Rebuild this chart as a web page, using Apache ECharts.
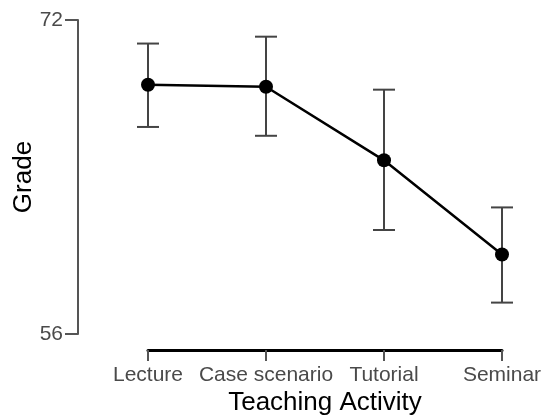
<!DOCTYPE html>
<html>
<head>
<meta charset="utf-8">
<script src="https://cdn.jsdelivr.net/npm/echarts@6/dist/echarts.min.js"></script>
<style>
  html, body { margin: 0; padding: 0; background: #fff; }
  #chart { width: 542px; height: 416px; }
</style>
</head>
<body>
<div id="chart"></div>
<script>
// teaching activity vs grade, mean with error bars
const categories = ['Lecture', 'Case scenario', 'Tutorial', 'Seminar'];
const means = [68.7, 68.6, 64.85, 60.05];
const upper = [70.8, 71.15, 68.45, 62.45];
const lower = [66.55, 66.1, 61.3, 57.6];
const yTicks = [56, 72];

const font = 'Liberation Sans, Arial, sans-serif';
const chart = echarts.init(document.getElementById('chart'));

const errData = categories.map((c, i) => [i, lower[i], upper[i]]);

chart.setOption({
  animation: false,
  grid: { left: 148, right: 40, top: 20, bottom: 82, outerBoundsMode: 'none', containLabel: false },
  xAxis: {
    type: 'category',
    data: categories,
    boundaryGap: false,
    offset: 16,
    name: 'Teaching Activity',
    nameLocation: 'middle',
    nameGap: 40,
    nameMoveOverlap: false,
    nameTextStyle: { fontFamily: font, fontSize: 26, color: '#000' },
    axisLine: { lineStyle: { color: '#000', width: 3 } },
    axisTick: { interval: 0, length: 11, lineStyle: { color: '#555', width: 2 } },
    axisLabel: { interval: 0, fontFamily: font, fontSize: 21, color: '#4a4a4a', margin: 15 },
    splitLine: { show: false }
  },
  yAxis: {
    type: 'value',
    min: yTicks[0],
    max: yTicks[1],
    interval: yTicks[1] - yTicks[0],
    offset: 70,
    name: 'Grade',
    nameLocation: 'middle',
    nameGap: 41,
    nameMoveOverlap: false,
    nameTextStyle: { fontFamily: font, fontSize: 26, color: '#000' },
    axisLine: { show: true, lineStyle: { color: '#555', width: 2 } },
    axisTick: { show: true, length: 13, lineStyle: { color: '#555', width: 2 } },
    axisLabel: { fontFamily: font, fontSize: 21, color: '#4a4a4a', margin: 15 },
    splitLine: { show: false }
  },
  series: [
    {
      type: 'custom',
      z: 1,
      data: errData,
      renderItem: function (params, api) {
        const x = api.value(0);
        const lo = api.coord([x, api.value(1)]);
        const hi = api.coord([x, api.value(2)]);
        const hw = 11;
        const style = { stroke: '#444', lineWidth: 2 };
        return {
          type: 'group',
          children: [
            { type: 'line', shape: { x1: hi[0], y1: hi[1], x2: lo[0], y2: lo[1] }, style },
            { type: 'line', shape: { x1: hi[0] - hw, y1: hi[1], x2: hi[0] + hw, y2: hi[1] }, style },
            { type: 'line', shape: { x1: lo[0] - hw, y1: lo[1], x2: lo[0] + hw, y2: lo[1] }, style }
          ]
        };
      }
    },
    {
      type: 'line',
      z: 2,
      data: means,
      symbol: 'circle',
      symbolSize: 14,
      itemStyle: { color: '#000' },
      lineStyle: { color: '#000', width: 2.5 }
    }
  ]
});
</script>
</body>
</html>
